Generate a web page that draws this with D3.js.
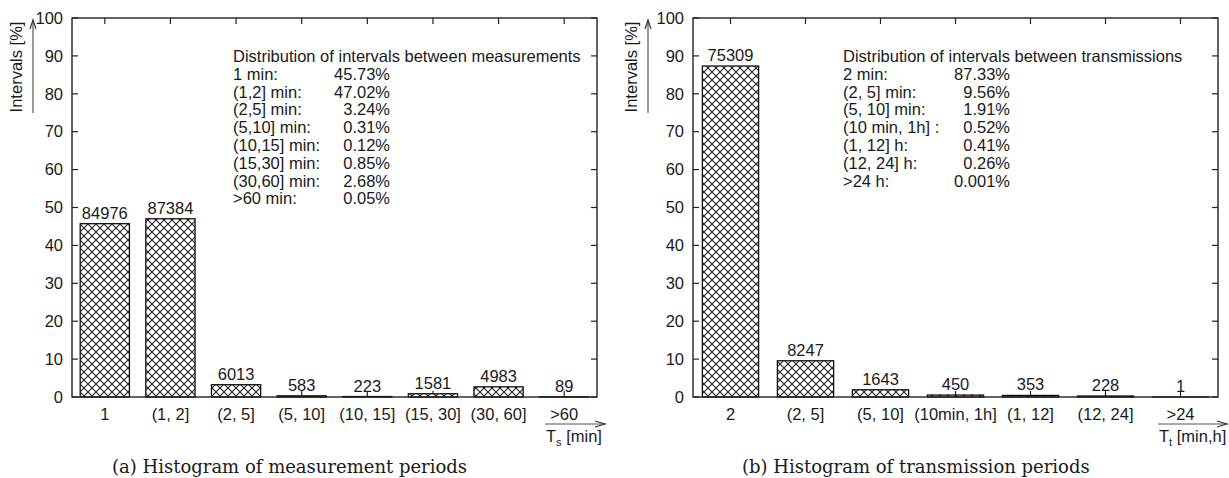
<!DOCTYPE html>
<html>
<head>
<meta charset="utf-8">
<style>
body { margin: 0; background: #fff; }
svg text { font-family: "Liberation Sans", Arial, sans-serif; fill: #1a1a1a; }
.caption { font-family: "DejaVu Serif", serif !important; }
</style>
</head>
<body>
<svg width="1229" height="478"></svg>
<script src="https://cdn.jsdelivr.net/npm/d3@7"></script>
<script>

// (a) measurement periods
var catsA = ["1", "(1, 2]", "(2, 5]", "(5, 10]", "(10, 15]", "(15, 30]", "(30, 60]", ">60"];
var pctA = [45.73, 47.02, 3.24, 0.31, 0.12, 0.85, 2.68, 0.05];
var countA = [84976, 87384, 6013, 583, 223, 1581, 4983, 89];
var boxLabelsA = ["1 min:", "(1,2] min:", "(2,5] min:", "(5,10] min:", "(10,15] min:", "(15,30] min:", "(30,60] min:", ">60 min:"];

// (b) transmission periods
var catsB = ["2", "(2, 5]", "(5, 10]", "(10min, 1h]", "(1, 12]", "(12, 24]", ">24"];
var pctB = [87.33, 9.56, 1.91, 0.52, 0.41, 0.26, 0.001];
var countB = [75309, 8247, 1643, 450, 353, 228, 1];
var boxLabelsB = ["2 min:", "(2, 5] min:", "(5, 10] min:", "(10 min, 1h] :", "(1, 12] h:", "(12, 24] h:", ">24 h:"];

var yTicks = [0, 10, 20, 30, 40, 50, 60, 70, 80, 90, 100];

var fs = "16.5px";

var svg = d3.select("svg");

var defs = svg.append("defs");
var pat = defs.append("pattern")
    .attr("id", "hatch")
    .attr("patternUnits", "userSpaceOnUse")
    .attr("width", 8).attr("height", 8);
pat.append("rect").attr("width", 8).attr("height", 8).attr("fill", "#fff");
pat.append("path")
    .attr("d", "M0,0L8,8M8,0L0,8")
    .attr("stroke", "#222").attr("stroke-width", 1.1);

var plotTop = 18, plotBottom = 397;

function arrowHead(g, x, y, dir) {
  // dir: "up" or "right"
  var d = dir == "up"
    ? "M" + (x - 3) + "," + (y + 9) + "L" + x + "," + y + "L" + (x + 3) + "," + (y + 9)
    : "M" + (x - 10) + "," + (y - 3) + "L" + x + "," + y + "L" + (x - 10) + "," + (y + 3);
  g.append("path").attr("d", d).attr("fill", "none").attr("stroke", "#333").attr("stroke-width", 1.2);
}

function panel(o) {
  var g = svg.append("g");

  var x = d3.scaleBand().domain(o.cats).range([o.x0, o.x1]);
  var y = d3.scaleLinear().domain([0, 100]).range([plotBottom, plotTop]);
  var bw = x.bandwidth() * 0.75;
  var cx = function(d) { return x(d) + x.bandwidth() / 2; };

  // ticks (mirrored, pointing inward)
  g.selectAll(".ytl").data(yTicks).enter().append("line")
      .attr("x1", o.x0).attr("x2", o.x0 + 6)
      .attr("y1", function(d) { return y(d); }).attr("y2", function(d) { return y(d); })
      .attr("stroke", "#222").attr("stroke-width", 1.2);
  g.selectAll(".ytr").data(yTicks).enter().append("line")
      .attr("x1", o.x1).attr("x2", o.x1 - 6)
      .attr("y1", function(d) { return y(d); }).attr("y2", function(d) { return y(d); })
      .attr("stroke", "#222").attr("stroke-width", 1.2);
  g.selectAll(".xtb").data(o.cats).enter().append("line")
      .attr("x1", cx).attr("x2", cx)
      .attr("y1", plotBottom).attr("y2", plotBottom - 6)
      .attr("stroke", "#222").attr("stroke-width", 1.2);
  g.selectAll(".xtt").data(o.cats).enter().append("line")
      .attr("x1", cx).attr("x2", cx)
      .attr("y1", plotTop).attr("y2", plotTop + 6)
      .attr("stroke", "#222").attr("stroke-width", 1.2);

  // bars
  g.selectAll(".bar").data(o.pct).enter().append("rect")
      .attr("x", function(d, i) { return x(o.cats[i]) + (x.bandwidth() - bw) / 2; })
      .attr("y", function(d) { return y(d); })
      .attr("width", bw)
      .attr("height", function(d) { return plotBottom - y(d); })
      .attr("fill", "url(#hatch)")
      .attr("stroke", "#111").attr("stroke-width", 1.3);

  // counts above bars
  g.selectAll(".cnt").data(o.count).enter().append("text")
      .attr("x", function(d, i) { return cx(o.cats[i]); })
      .attr("y", function(d, i) { return y(o.pct[i]) - 5; })
      .attr("text-anchor", "middle")
      .style("font-size", fs)
      .text(function(d) { return d; });

  // border
  g.append("rect")
      .attr("x", o.x0).attr("y", plotTop)
      .attr("width", o.x1 - o.x0).attr("height", plotBottom - plotTop)
      .attr("fill", "none").attr("stroke", "#222").attr("stroke-width", 1.4);

  // y tick labels
  g.selectAll(".yl").data(yTicks).enter().append("text")
      .attr("x", o.x0 - 9)
      .attr("y", function(d) { return y(d); })
      .attr("dy", "0.35em")
      .attr("text-anchor", "end")
      .style("font-size", fs)
      .text(function(d) { return d; });

  // x tick labels
  g.selectAll(".xl").data(o.cats).enter().append("text")
      .attr("x", cx)
      .attr("y", 420)
      .attr("text-anchor", "middle")
      .style("font-size", fs)
      .text(function(d) { return d; });

  // y axis title + arrow
  g.append("text")
      .attr("transform", "translate(" + o.ylabX + ",67) rotate(-90)")
      .attr("text-anchor", "middle")
      .style("font-size", fs)
      .text("Intervals [%]");
  g.append("line")
      .attr("x1", o.yarrX).attr("x2", o.yarrX)
      .attr("y1", 113).attr("y2", 20)
      .attr("stroke", "#555").attr("stroke-width", 1.2);
  arrowHead(g, o.yarrX, 20, "up");

  // x axis arrow + title
  g.append("line")
      .attr("x1", o.xarr0).attr("x2", o.xarr1)
      .attr("y1", 424).attr("y2", 424)
      .attr("stroke", "#555").attr("stroke-width", 1.2);
  arrowHead(g, o.xarr1, 424, "right");
  var xt = g.append("text")
      .attr("x", o.xarr0 + 1).attr("y", 442)
      .style("font-size", fs);
  xt.append("tspan").text("T");
  xt.append("tspan").attr("dy", 4).style("font-size", "11px").text(o.sub);
  xt.append("tspan").attr("dy", -4).text(" " + o.unit);

  // distribution box
  g.append("text")
      .attr("x", o.bx).attr("y", 62)
      .style("font-size", fs)
      .text(o.title);
  g.selectAll(".bl").data(o.boxLabels).enter().append("text")
      .attr("x", o.bx)
      .attr("y", function(d, i) { return 62 + (i + 1) * 17.8; })
      .style("font-size", fs)
      .text(function(d) { return d; });
  g.selectAll(".bv").data(o.pct).enter().append("text")
      .attr("x", o.bv)
      .attr("y", function(d, i) { return 62 + (i + 1) * 17.8; })
      .attr("text-anchor", "end")
      .style("font-size", fs)
      .text(function(d) { return d + "%"; });

  // caption
  g.append("text")
      .attr("class", "caption")
      .attr("x", o.capX).attr("y", 473)
      .style("font-size", "18px")
      .text(o.caption);
}

panel({
  cats: catsA, pct: pctA, count: countA, boxLabels: boxLabelsA,
  x0: 72, x1: 597, ylabX: 22, yarrX: 33, xarr0: 545, xarr1: 605,
  sub: "s", unit: "[min]",
  bx: 233, bv: 390, title: "Distribution of intervals between measurements",
  capX: 112, caption: "(a) Histogram of measurement periods"
});

panel({
  cats: catsB, pct: pctB, count: countB, boxLabels: boxLabelsB,
  x0: 693, x1: 1218, ylabX: 637, yarrX: 648, xarr0: 1158, xarr1: 1227,
  sub: "t", unit: "[min,h]",
  bx: 843, bv: 1010, title: "Distribution of intervals between transmissions",
  capX: 742, caption: "(b) Histogram of transmission periods"
});

</script>
</body>
</html>
